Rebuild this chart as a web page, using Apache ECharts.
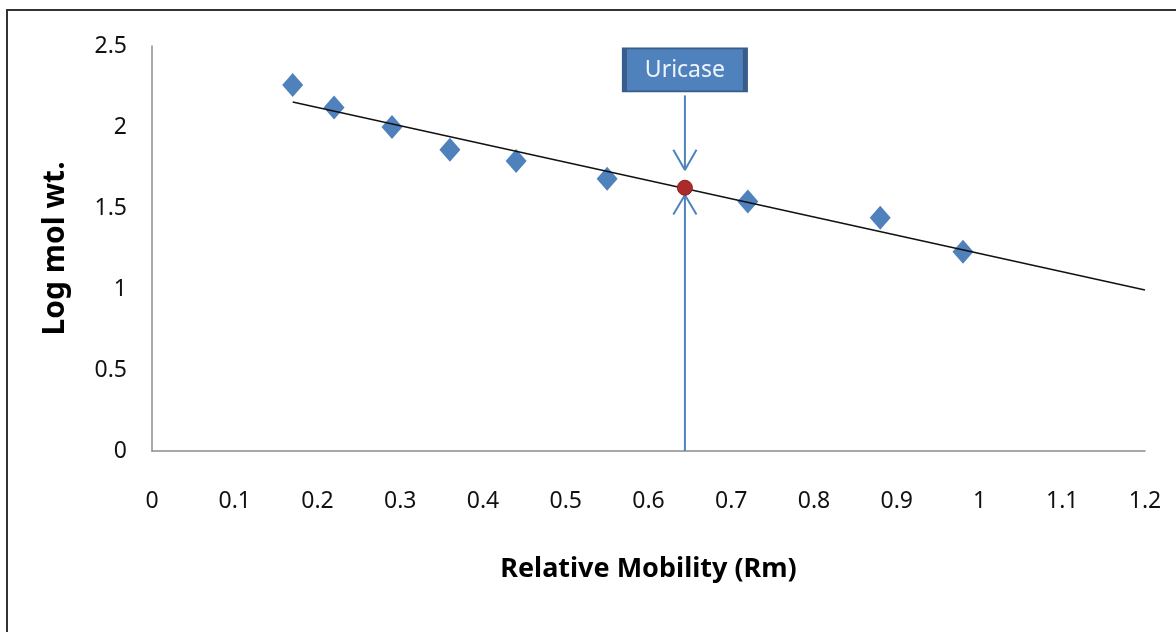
<!DOCTYPE html>
<html>
<head>
<meta charset="utf-8">
<script src="https://cdn.jsdelivr.net/npm/echarts@6/dist/echarts.min.js"></script>
<style>
html,body{margin:0;padding:0;background:#fff;}
#chart{width:1176px;height:632px;}
</style>
</head>
<body>
<div id="chart"></div>
<script>
// Standards: relative mobility (Rm) vs log molecular weight
const standardsRm = [0.17, 0.22, 0.29, 0.36, 0.44, 0.55, 0.72, 0.88, 0.98];
const standardsLogMw = [2.26, 2.12, 2.00, 1.86, 1.79, 1.68, 1.54, 1.44, 1.23];
// Linear trend line end points
const trendRm = [0.17, 1.2];
const trendLogMw = [2.154, 0.994];
// Uricase sample
const uricaseRm = 0.644;
const uricaseLogMw = 1.625;
const uricaseLabel = 'Uricase';
const uricaseLabelLogMw = 2.352;
// Arrow annotation (data units)
const topArrowY = [2.195, 1.735];
const topArrowHeadY = [1.86, 1.735];
const bottomArrowY = [0, 1.58];
const bottomArrowHeadY = [1.46, 1.58];
const arrowHeadHalfWidth = 0.014;
// Axis ticks
const xTicks = [0, 0.1, 0.2, 0.3, 0.4, 0.5, 0.6, 0.7, 0.8, 0.9, 1, 1.1, 1.2];
const yTicks = [0, 0.5, 1, 1.5, 2, 2.5];

const blue = '#4f81bd';
const chart = echarts.init(document.getElementById('chart'));
const tickFont = {fontFamily: 'Noto Sans', fontSize: 23, color: '#111'};

function arrowHead(yPair) {
  return [[uricaseRm - arrowHeadHalfWidth, yPair[0]], [uricaseRm, yPair[1]], [uricaseRm + arrowHeadHalfWidth, yPair[0]]];
}

const arrowLine = {type: 'line', symbol: 'none', silent: true, z: 3,
  lineStyle: {color: blue, width: 2}};

chart.setOption({
  animation: false,
  backgroundColor: '#fff',
  grid: {left: 152, right: 31, top: 46, bottom: 181},
  graphic: [{
    type: 'polyline', silent: true,
    shape: {points: [[7, 640], [7, 10], [1180, 10]]},
    style: {stroke: '#333', lineWidth: 2, fill: null}
  }],
  xAxis: {
    type: 'value', min: 0, max: 1.2, interval: 0.1,
    name: 'Relative Mobility (Rm)', nameLocation: 'middle', nameGap: 105,
    nameTextStyle: {fontFamily: 'Noto Sans', fontSize: 27, fontWeight: 'bold', color: '#000'},
    axisLine: {lineStyle: {color: '#8c8c8c', width: 1.5}},
    axisTick: {show: false},
    splitLine: {show: false},
    axisLabel: Object.assign({margin: 39, formatter: v => {
      const t = xTicks.find(x => Math.abs(x - v) < 1e-6);
      return t === undefined ? '' : String(t);
    }}, tickFont)
  },
  yAxis: {
    type: 'value', min: 0, max: 2.5, interval: 0.5,
    name: 'Log mol wt.', nameLocation: 'middle', nameGap: 82,
    nameTextStyle: {fontFamily: 'Noto Sans', fontSize: 30, fontWeight: 'bold', color: '#000'},
    axisLine: {show: true, lineStyle: {color: '#8c8c8c', width: 1.5}},
    axisTick: {show: false},
    splitLine: {show: false},
    axisLabel: Object.assign({margin: 25, formatter: v => {
      const t = yTicks.find(x => Math.abs(x - v) < 1e-6);
      return t === undefined ? '' : String(t);
    }}, tickFont)
  },
  series: [
    {
      type: 'scatter', symbol: 'diamond', symbolSize: [21, 24], z: 2,
      itemStyle: {color: blue, opacity: 1},
      data: standardsRm.map((x, i) => [x, standardsLogMw[i]])
    },
    {
      type: 'line', symbol: 'none', silent: true, z: 4,
      lineStyle: {color: '#111', width: 1.5},
      data: trendRm.map((x, i) => [x, trendLogMw[i]])
    },
    Object.assign({data: topArrowY.map(y => [uricaseRm, y])}, arrowLine),
    Object.assign({data: arrowHead(topArrowHeadY)}, arrowLine),
    Object.assign({data: bottomArrowY.map(y => [uricaseRm, y])}, arrowLine),
    Object.assign({data: arrowHead(bottomArrowHeadY)}, arrowLine),
    {
      type: 'scatter', symbol: 'circle', symbolSize: 15, z: 6,
      itemStyle: {color: '#ad2a2a', borderColor: '#8a1f1f', borderWidth: 1, opacity: 1},
      data: [[uricaseRm, uricaseLogMw]],
      markPoint: {
        silent: true,
        symbol: 'rect', symbolSize: [121, 43],
        itemStyle: {color: blue, borderColor: '#385d8a', borderWidth: 3, opacity: 1},
        label: {show: true, position: 'inside', formatter: uricaseLabel,
          fontFamily: 'Noto Sans', fontSize: 23, color: '#eef4fb'},
        data: [{coord: [uricaseRm, uricaseLabelLogMw]}]
      }
    }
  ]
});
</script>
</body>
</html>
